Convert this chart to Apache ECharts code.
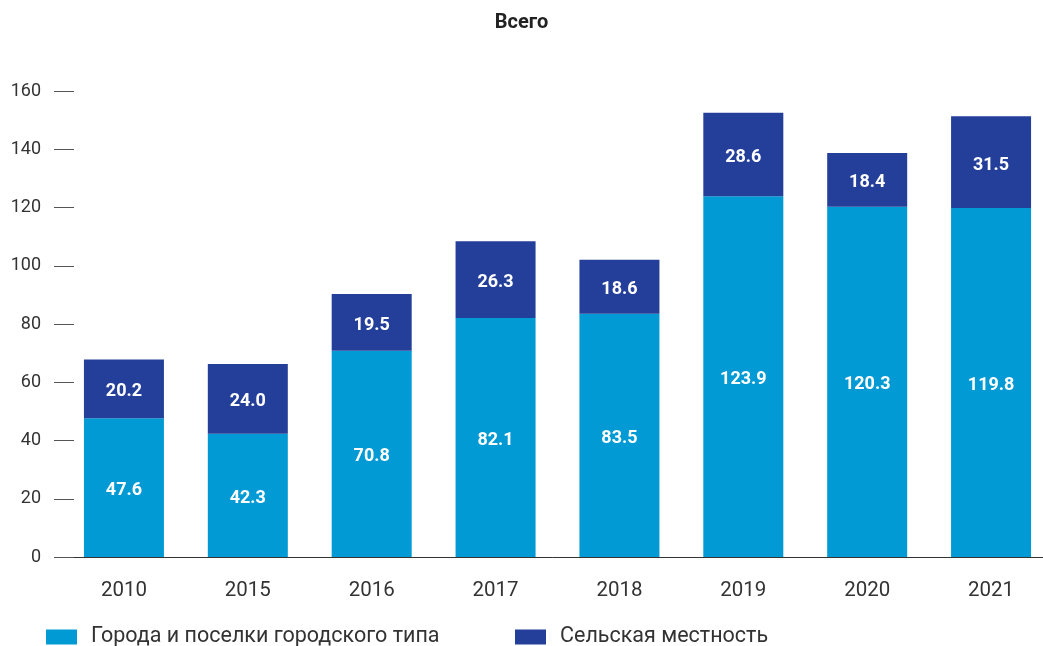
<!DOCTYPE html>
<html><head><meta charset="utf-8">
<script src="https://cdn.jsdelivr.net/npm/echarts@6/dist/echarts.min.js"></script>
<style>html,body{margin:0;padding:0;background:#fff}#c{width:1043px;height:646px}</style>
</head><body><div id="c"></div>
<script>
const categories = ['2010','2015','2016','2017','2018','2019','2020','2021'];
const urban = [47.6, 42.3, 70.8, 82.1, 83.5, 123.9, 120.3, 119.8];
const rural = [20.2, 24.0, 19.5, 26.3, 18.6, 28.6, 18.4, 31.5];
const seriesNames = ['Города и поселки городского типа', 'Сельская местность'];
const titleText = 'Всего';

const chart = echarts.init(document.getElementById('c'));
const font = 'Roboto, "Noto Sans", sans-serif';
const lbl = {show:true, position:'inside', offset:[0,3], color:'#fff', fontWeight:'bold', fontSize:18, fontFamily:font,
  formatter: p => p.value.toFixed(1)};
const legendText = {fontSize:21.5, color:'#333', fontFamily:font, padding:[0,0,0,9]};
chart.setOption({
  animation:false,
  title:{text:titleText, left:'center', top:8, textStyle:{fontSize:20, fontWeight:'bold', color:'#222', fontFamily:font}},
  grid:{left:62, top:91, width:991, height:466, outerBoundsMode:'none', containLabel:false},
  legend:[
    {left:46, top:626, padding:0, itemWidth:31, itemHeight:15, textStyle:legendText,
     data:[{name:seriesNames[0], icon:'rect'}]},
    {left:515, top:626, padding:0, itemWidth:31, itemHeight:15, textStyle:legendText,
     data:[{name:seriesNames[1], icon:'rect'}]}
  ],
  xAxis:{type:'category', data:categories,
    axisLine:{lineStyle:{color:'#333', width:1}}, axisTick:{show:false},
    axisLabel:{color:'#333', fontSize:20.5, margin:23, fontFamily:font}},
  yAxis:{type:'value', min:0, max:160, interval:20, offset:8,
    axisLine:{show:false}, splitLine:{show:false},
    axisTick:{show:true, inside:true, length:20, lineStyle:{color:'#555'}},
    axisLabel:{color:'#333', fontSize:18, margin:13, fontFamily:font}},
  series:[
    {name:seriesNames[0], type:'bar', stack:'a', data:urban, barWidth:80, itemStyle:{color:'#019ad4'}, label:lbl},
    {name:seriesNames[1], type:'bar', stack:'a', data:rural, barWidth:80, itemStyle:{color:'#243f99'}, label:lbl}
  ]
});
</script></body></html>
